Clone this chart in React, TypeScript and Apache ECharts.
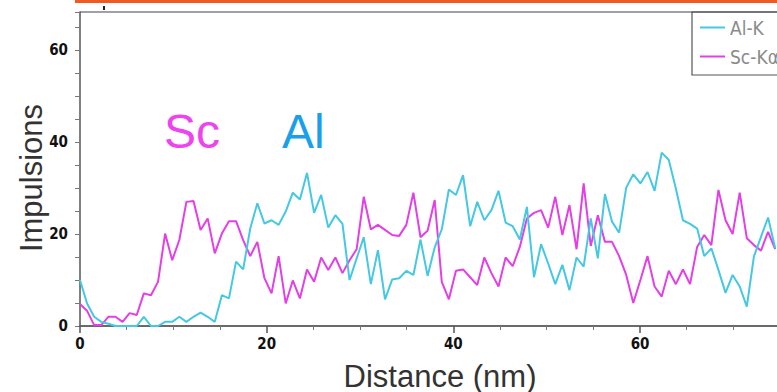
import React, { useEffect, useRef } from "react";
import * as echarts from "echarts";

const STEP = 0.76; // nm between samples

const alK = [
  10.0, 4.9, 2.0, 0.9, 0.5, 0, 0, 0, 0, 2.0,
  0, 0, 0.9, 0.9, 2.0, 0.9, 2.0, 2.9, 2.0, 0.9,
  6.7, 6.0, 14.0, 12.3, 21.2, 26.7, 22.3, 23.0, 22.0, 24.9,
  29.0, 27.5, 33.3, 24.6, 28.5, 21.4, 24.1, 22.2, 10.0, 14.7,
  19.3, 9.1, 16.5, 5.8, 10.1, 10.4, 12.0, 11.1, 18.8, 10.9,
  17.1, 21.0, 29.7, 28.5, 32.8, 21.7, 27.0, 23.0, 25.2, 29.4,
  22.5, 21.7, 18.8, 25.9, 10.6, 17.8, 13.6, 9.1, 13.3, 7.8,
  14.9, 12.9, 23.4, 14.7, 28.7, 22.7, 20.3, 30.1, 33.0, 31.0,
  33.5, 29.4, 37.7, 36.1, 29.9, 23.0, 22.2, 21.2, 15.2, 16.9,
  12.2, 7.2, 11.1, 8.6, 4.2, 15.1, 19.4, 23.6, 16.9,
];

const scKa = [
  4.8, 3.3, 0.2, 0.2, 2.0, 2.0, 0.9, 2.8, 2.4, 7.1,
  6.7, 9.6, 20.1, 14.3, 18.7, 27.0, 27.2, 20.9, 23.4, 15.8,
  20.1, 22.8, 22.8, 18.7, 15.2, 18.3, 10.4, 7.1, 15.2, 4.9,
  9.9, 6.0, 12.3, 9.6, 14.9, 12.2, 14.9, 11.5, 14.3, 16.7,
  28.1, 21.0, 22.0, 20.9, 19.8, 19.6, 22.0, 29.0, 19.3, 20.7,
  27.4, 9.6, 5.8, 12.0, 12.3, 10.6, 8.9, 14.9, 11.5, 8.6,
  14.9, 13.0, 17.2, 23.4, 24.6, 25.2, 21.4, 28.1, 19.8, 26.3,
  16.7, 31.0, 17.4, 24.1, 18.3, 18.3, 15.2, 11.1, 5.0, 10.0,
  15.2, 8.6, 6.4, 12.0, 9.1, 12.3, 9.1, 17.2, 19.8, 17.6,
  29.6, 23.0, 20.0, 29.0, 19.1, 17.6, 16.4, 20.5, 16.7,
];

const seriesNames = ["Al-K", "Sc-K\u03b1"];
const xLabels = [0, 20, 40, 60];
const yLabelEvery = 20;

const CYAN = "#45c8e2";
const MAGENTA = "#e43fe6";
const LABEL_FONT = "'Liberation Sans Narrow', 'DejaVu Sans Condensed', 'Liberation Sans', sans-serif";

export default function App() {
  const ref = useRef<HTMLDivElement>(null);
  useEffect(() => {
    if (!ref.current) return;
    const chart = echarts.init(ref.current, undefined, { renderer: "svg" });
    const toPairs = (arr: number[]) => arr.map((v, i) => [+(i * STEP).toFixed(3), v]);
    chart.setOption({
      animation: false,
      backgroundColor: "#ffffff",
      grid: { left: 80, top: 12, width: 746.7, height: 314, containLabel: false, outerBoundsMode: "none" },
      xAxis: {
        type: "value",
        min: 0,
        max: 80,
        interval: 20,
        axisLine: { show: true, lineStyle: { color: "#6a6a6a", width: 2 } },
        axisTick: { show: true, inside: false, length: 7, lineStyle: { color: "#555", width: 1.5 } },
        minorTick: { show: true, splitNumber: 4, length: 4, lineStyle: { color: "#777", width: 1 } },
        splitLine: { show: false },
        axisLabel: {
          margin: 10,
          color: "#111",
          fontSize: 15,
          fontWeight: "bold",
          fontFamily: LABEL_FONT,
          formatter: (v: number) => (xLabels.indexOf(v) >= 0 ? String(v) : ""),
        },
      },
      yAxis: {
        type: "value",
        min: 0,
        max: 68.3,
        interval: 5,
        axisLine: { show: true, lineStyle: { color: "#555", width: 1.5 } },
        axisTick: { show: true, inside: false, length: 5, lineStyle: { color: "#777", width: 1 } },
        splitLine: { show: false },
        axisLabel: {
          margin: 12,
          color: "#111",
          fontSize: 15,
          fontWeight: "bold",
          fontFamily: LABEL_FONT,
          formatter: (v: number) => (Math.abs(v % yLabelEvery) < 1e-6 ? String(v) : ""),
        },
      },
      legend: {
        show: true,
        orient: "vertical",
        left: 692,
        top: 12,
        itemWidth: 25,
        itemHeight: 2,
        itemGap: 10,
        icon: "rect",
        padding: [6, 4, 8, 8],
        borderWidth: 0,
        backgroundColor: "transparent",
        textStyle: { color: "#8a8a8a", fontSize: 19, fontFamily: LABEL_FONT },
        data: seriesNames,
      },
      series: [
        {
          name: seriesNames[0],
          type: "line",
          data: toPairs(alK),
          showSymbol: false,
          symbol: "none",
          lineStyle: { color: CYAN, width: 2 },
          itemStyle: { color: CYAN },
          z: 3,
        },
        {
          name: seriesNames[1],
          type: "line",
          data: toPairs(scKa),
          showSymbol: false,
          symbol: "none",
          lineStyle: { color: MAGENTA, width: 2 },
          itemStyle: { color: MAGENTA },
          z: 2,
        },
      ],
      graphic: [
        { type: "rect", shape: { x: 75, y: 0, width: 702, height: 3 }, style: { fill: "#f05a22" } },
        { type: "rect", shape: { x: 103, y: 6, width: 2, height: 4 }, style: { fill: "#222" } },
        { type: "line", shape: { x1: 80, y1: 12, x2: 777, y2: 12 }, style: { stroke: "#444", lineWidth: 1.2 } },
        {
          type: "rect",
          z: -1,
          shape: { x: 692, y: 12, width: 120, height: 63 },
          style: { fill: "#fff", stroke: "#555", lineWidth: 1.2 },
        },
        {
          type: "text",
          x: 164,
          y: 131,
          style: { text: "Sc", fill: "#ee44ee", font: "48px 'Liberation Sans', Arial, sans-serif", textVerticalAlign: "middle" },
        },
        {
          type: "text",
          x: 282,
          y: 131,
          style: { text: "Al", fill: "#1aa0ea", font: "48px 'Liberation Sans', Arial, sans-serif", textVerticalAlign: "middle" },
        },
        {
          type: "text",
          x: 440,
          y: 376,
          style: { text: "Distance (nm)", fill: "#333", font: "31px 'Liberation Sans', Arial, sans-serif", textAlign: "center", textVerticalAlign: "middle" },
        },
        {
          type: "text",
          x: 31,
          y: 178,
          rotation: Math.PI / 2,
          style: { text: "Impulsions", fill: "#333", font: "31px 'Liberation Sans', Arial, sans-serif", textAlign: "center", textVerticalAlign: "middle" },
        },
      ],
    });
    return () => chart.dispose();
  }, []);
  return (
    <div
      ref={ref}
      style={{ position: "fixed", left: 0, top: 0, width: 777, height: 392, overflow: "hidden", background: "#fff" }}
    />
  );
}
